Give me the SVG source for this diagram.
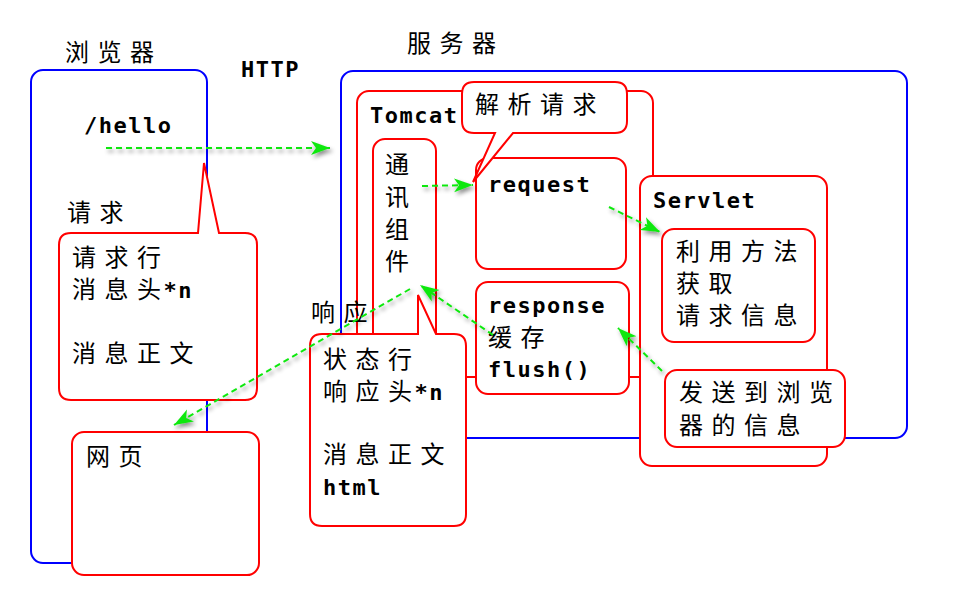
<svg xmlns="http://www.w3.org/2000/svg" width="962" height="602" viewBox="0 0 962 602">
<style>
.blue{fill:#fff;stroke:#0000ff;stroke-width:2}
.red{fill:#fff;stroke:#ff0000;stroke-width:2}
.cn{font-family:"Noto Sans CJK SC","Noto Sans",sans-serif;font-size:24px;letter-spacing:8.5px;fill:#000}
.tight{letter-spacing:2.5px}
.mono{font-family:"DejaVu Sans Mono","Liberation Mono",monospace;font-size:22px;font-weight:bold;letter-spacing:1.5px;fill:#000}
.conn{fill:none;stroke:#10e810;stroke-width:2;stroke-dasharray:6,4}
</style>
<defs>
<marker id="ah" markerUnits="userSpaceOnUse" markerWidth="22" markerHeight="16" refX="19" refY="8" orient="auto">
<path d="M0,1 L19,8 L0,15 L5,8 Z" fill="#10e810"/>
</marker>
<filter id="sh" x="-10%" y="-10%" width="120%" height="130%">
<feDropShadow dx="2" dy="3" stdDeviation="2" flood-color="#000" flood-opacity="0.45"/>
</filter>
</defs>
<rect width="962" height="602" fill="#fff"/>

<g id="browser">
<rect class="blue" x="31" y="70" width="176" height="493" rx="12"/>
<text class="cn" x="65" y="61">浏览器</text>
<text class="mono" x="84" y="133">/hello</text>
<text class="cn" x="67" y="221">请求</text>
</g>

<text id="http" class="mono" x="241" y="77">HTTP</text>

<g id="server">
<rect class="blue" x="341" y="71" width="566" height="367" rx="12"/>
<text class="cn" x="407" y="52">服务器</text>
</g>

<g id="tomcat">
<rect class="red" x="357" y="91" width="296" height="286" rx="12"/>
<text class="mono" x="370" y="123">Tomcat</text>
</g>

<g id="comm">
<rect class="red" x="373" y="139" width="63" height="360" rx="12"/>
<text class="cn" x="385" y="173">通</text>
<text class="cn" x="385" y="206">讯</text>
<text class="cn" x="385" y="238">组</text>
<text class="cn" x="385" y="270">件</text>
</g>

<g id="request">
<rect class="red" x="476" y="158" width="150" height="111" rx="12"/>
<text class="mono" x="488" y="192">request</text>
</g>

<g id="response">
<rect class="red" x="476" y="282" width="153" height="112" rx="12"/>
<text class="mono" x="488" y="313">response</text>
<text class="cn" x="488" y="346">缓存</text>
<text class="mono" x="488" y="377">flush()</text>
</g>

<g id="servlet">
<rect class="red" x="640" y="176" width="187" height="290" rx="12"/>
<text class="mono" x="653" y="208">Servlet</text>
</g>

<g id="getinfo">
<rect class="red" x="662" y="229" width="153" height="113" rx="12"/>
<text class="cn" x="676" y="260">利用方法</text>
<text class="cn" x="676" y="292">获取</text>
<text class="cn" x="676" y="324">请求信息</text>
</g>

<g id="sendinfo">
<rect class="red" x="665" y="370" width="180" height="77" rx="12"/>
<text class="cn" x="679" y="401">发送到浏览</text>
<text class="cn" x="679" y="434">器的信息</text>
</g>

<g id="parse">
<path class="red" d="M474,82 L615,82 Q627,82 627,94 L627,121 Q627,133 615,133 L513,133 L473,182 L495,133 L474,133 Q462,133 462,121 L462,94 Q462,82 474,82 Z"/>
<text class="cn" x="475" y="113">解析请求</text>
</g>

<g id="req-msg">
<path class="red" d="M71,233 L198,233 L204,163 L219,233 L245,233 Q257,233 257,245 L257,388 Q257,400 245,400 L71,400 Q59,400 59,388 L59,245 Q59,233 71,233 Z"/>
<text class="cn" x="72" y="266">请求行</text>
<text class="cn" x="72" y="298">消息<tspan class="tight">头</tspan><tspan class="mono">*n</tspan></text>
<text class="cn" x="72" y="362">消息正文</text>
</g>

<g id="webpage">
<rect class="red" x="72" y="432" width="187" height="143" rx="12"/>
<text class="cn" x="86" y="465">网页</text>
</g>

<text id="resp-label" class="cn" x="311" y="321">响应</text>

<g id="resp-msg">
<path class="red" d="M322,334 L418,334 L418,295 L436,334 L454,334 Q466,334 466,346 L466,514 Q466,526 454,526 L322,526 Q310,526 310,514 L310,346 Q310,334 322,334 Z"/>
<text class="cn" x="323" y="368">状态行</text>
<text class="cn" x="323" y="400">响应<tspan class="tight">头</tspan><tspan class="mono">*n</tspan></text>
<text class="cn" x="323" y="463">消息正文</text>
<text class="mono" x="323" y="495">html</text>
</g>

<g id="connectors" filter="url(#sh)">
<path class="conn" d="M106,148 L330,148" marker-end="url(#ah)"/>
<path class="conn" d="M422,186 L473,185" marker-end="url(#ah)"/>
<path class="conn" d="M609,207 L660,232" marker-end="url(#ah)"/>
<path class="conn" d="M662,371 L618,328" marker-end="url(#ah)"/>
<path class="conn" d="M493,335 L420,285" marker-end="url(#ah)"/>
<path class="conn" d="M410,289 L174,425" marker-end="url(#ah)"/>
</g>
</svg>
